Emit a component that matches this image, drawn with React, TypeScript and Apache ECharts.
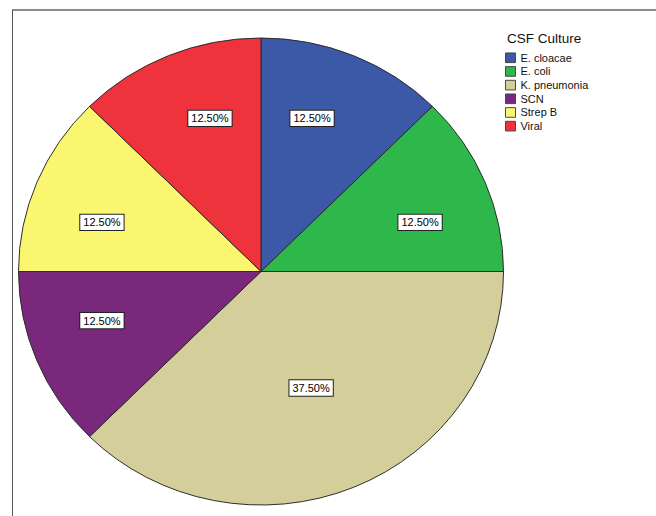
import React, { useEffect, useRef } from 'react';
import * as echarts from 'echarts';

const categories = ['E. cloacae', 'E. coli', 'K. pneumonia', 'SCN', 'Strep B', 'Viral'];
const counts = [1, 1, 3, 1, 1, 1];
const sliceColors = ['#3C59A8', '#2EB84B', '#D4CF9A', '#7A287C', '#FBF66F', '#EF333D'];
const legendTitle = 'CSF Culture';

const W = 656;
const H = 516;
const K = 233.5 / 242.5; // vertical squash of the original pie
const CX = 261;
const CY = 271.5 / K;
const R = 242.5;
const FONT = '"Liberation Sans", Arial, sans-serif';

export default function App() {
  const ref = useRef<HTMLDivElement>(null);
  useEffect(() => {
    const chart = echarts.init(ref.current!, null, { renderer: 'svg' });
    const total = counts.reduce((a, b) => a + b, 0);
    const mids: number[] = [];
    let cum = 0;
    counts.forEach((v) => {
      mids.push(((cum + v / 2) / total) * Math.PI * 2);
      cum += v;
    });
    chart.setOption({
      animation: false,
      title: {
        text: legendTitle,
        left: 507,
        top: 31.5 / K,
        padding: 0,
        textStyle: { fontSize: 13.5, fontWeight: 'normal', color: '#111', fontFamily: FONT },
      },
      legend: {
        orient: 'vertical',
        left: 505,
        top: 52 / K,
        padding: 0,
        itemWidth: 10,
        itemHeight: 10,
        itemGap: 2.2,
        icon: 'rect',
        selectedMode: false,
        data: categories,
        itemStyle: { borderColor: '#444', borderWidth: 1 },
        textStyle: { fontSize: 11, lineHeight: 12, color: '#111', fontFamily: FONT },
      },
      graphic: [
        {
          type: 'line',
          shape: { x1: 12, y1: 10 / K, x2: W, y2: 10 / K },
          style: { stroke: '#8c8c8c', lineWidth: 2 },
        },
        {
          type: 'line',
          shape: { x1: 12.5, y1: 10 / K, x2: 12.5, y2: H / K },
          style: { stroke: '#555', lineWidth: 1 },
        },
      ],
      series: [
        {
          type: 'pie',
          center: [CX, CY],
          radius: R,
          startAngle: 90,
          clockwise: true,
          data: categories.map((n, i) => ({ name: n, value: counts[i], itemStyle: { color: sliceColors[i] } })),
          itemStyle: { borderColor: '#2a2a2a', borderWidth: 1 },
          emphasis: { disabled: true },
          labelLine: { show: false },
          label: {
            show: true,
            position: 'inside',
            formatter: (p: any) => `${p.percent.toFixed(2)}%`,
            fontSize: 11,
            fontFamily: FONT,
            color: '#000',
            backgroundColor: '#fff',
            borderColor: '#222',
            borderWidth: 1,
            padding: [3, 3, 2, 3],
          },
          labelLayout: (params: any) => {
            const i = params.dataIndex;
            const share = counts[i] / total;
            const a = mids[i];
            const s = Math.sin(a);
            const c = Math.cos(a);
            let fx = 0.54;
            let fy = 0.54;
            if (share <= 0.25) {
              const horiz = Math.abs(s) > Math.abs(c);
              fx = horiz ? 0.71 : 0.55;
              fy = horiz ? 0.55 : 0.71;
            }
            return {
              x: CX + fx * R * s,
              y: CY - fy * R * c,
              align: 'center',
              verticalAlign: 'middle',
            };
          },
        },
      ],
    });
    return () => chart.dispose();
  }, []);
  return (
    <div style={{ position: 'fixed', left: 0, top: 0, width: W, height: H, overflow: 'hidden', background: '#fff' }}>
      <div
        ref={ref}
        style={{ width: W, height: H / K, transform: `scaleY(${K})`, transformOrigin: '0 0' }}
      />
    </div>
  );
}
